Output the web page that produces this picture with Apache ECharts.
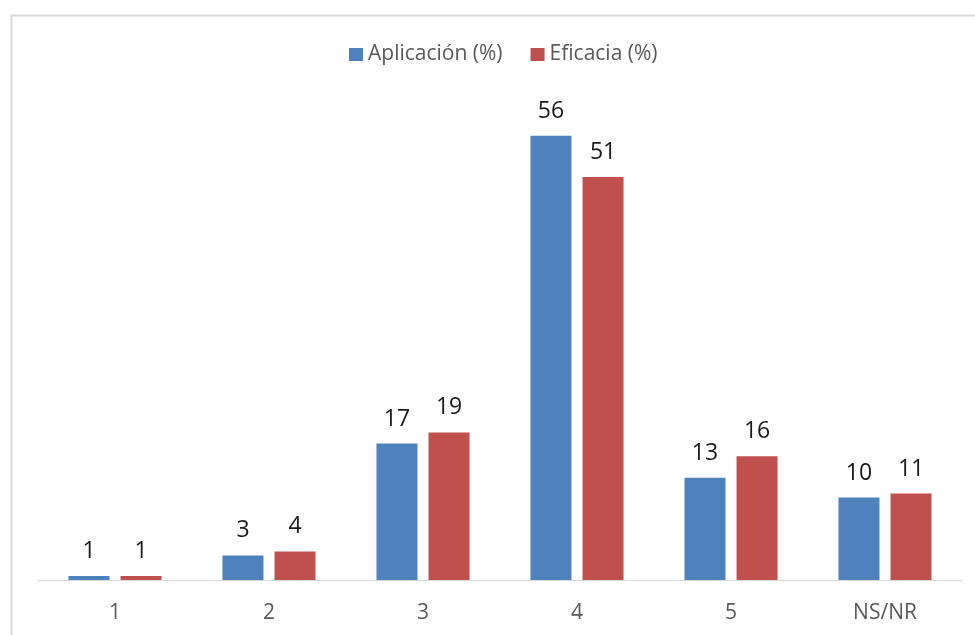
<!DOCTYPE html>
<html>
<head>
<meta charset="utf-8">
<script src="https://cdn.jsdelivr.net/npm/echarts@6/dist/echarts.min.js"></script>
<style>
html,body{margin:0;padding:0;background:#fff;}
#main{width:975px;height:635px;}
</style>
</head>
<body>
<div id="main"></div>
<script>
const categories = ['1', '2', '3', '4', '5', 'NS/NR'];
const aplicacion = [0.5, 3.1, 17.2, 56, 12.9, 10.4];
const eficacia = [0.5, 3.6, 18.6, 50.8, 15.6, 10.9];
const seriesNames = ['Aplicación (%)', 'Eficacia (%)'];

const FONT = '"Open Sans", "Noto Sans", sans-serif';
const chart = echarts.init(document.getElementById('main'), null, {renderer: 'canvas'});
const labelStyle = {
  show: true, position: 'top', distance: 13,
  fontFamily: FONT, fontSize: 23, color: '#1a1a1a',
  formatter: p => String(Math.round(p.value))
};
chart.setOption({
  animation: false,
  backgroundColor: '#ffffff',
  graphic: [{
    type: 'rect', left: 9, top: 13,
    shape: {width: 1000, height: 700},
    style: {fill: 'none', stroke: '#d9d9d9', lineWidth: 2},
    silent: true
  }],
  legend: {
    top: 39, left: 344,
    itemWidth: 14, itemHeight: 13, itemGap: 28,
    icon: 'rect',
    textStyle: {fontFamily: FONT, fontSize: 21, color: '#595959'},
    data: seriesNames
  },
  grid: {left: 38, right: 13, top: 104, bottom: 55, containLabel: false},
  xAxis: {
    type: 'category', data: categories,
    axisLine: {show: true, lineStyle: {color: '#d9d9d9', width: 1}},
    axisTick: {show: false},
    axisLabel: {fontFamily: FONT, fontSize: 21, color: '#595959', margin: 23}
  },
  yAxis: {
    type: 'value', min: 0, max: 60, interval: 10,
    show: false,
    splitLine: {show: false}
  },
  series: [
    {
      name: seriesNames[0], type: 'bar', data: aplicacion,
      barWidth: 41, barGap: '27%',
      itemStyle: {color: '#4F81BD'},
      label: labelStyle
    },
    {
      name: seriesNames[1], type: 'bar', data: eficacia,
      barWidth: 41, barGap: '27%',
      itemStyle: {color: '#C0504D'},
      label: labelStyle
    }
  ]
});
</script>
</body>
</html>
